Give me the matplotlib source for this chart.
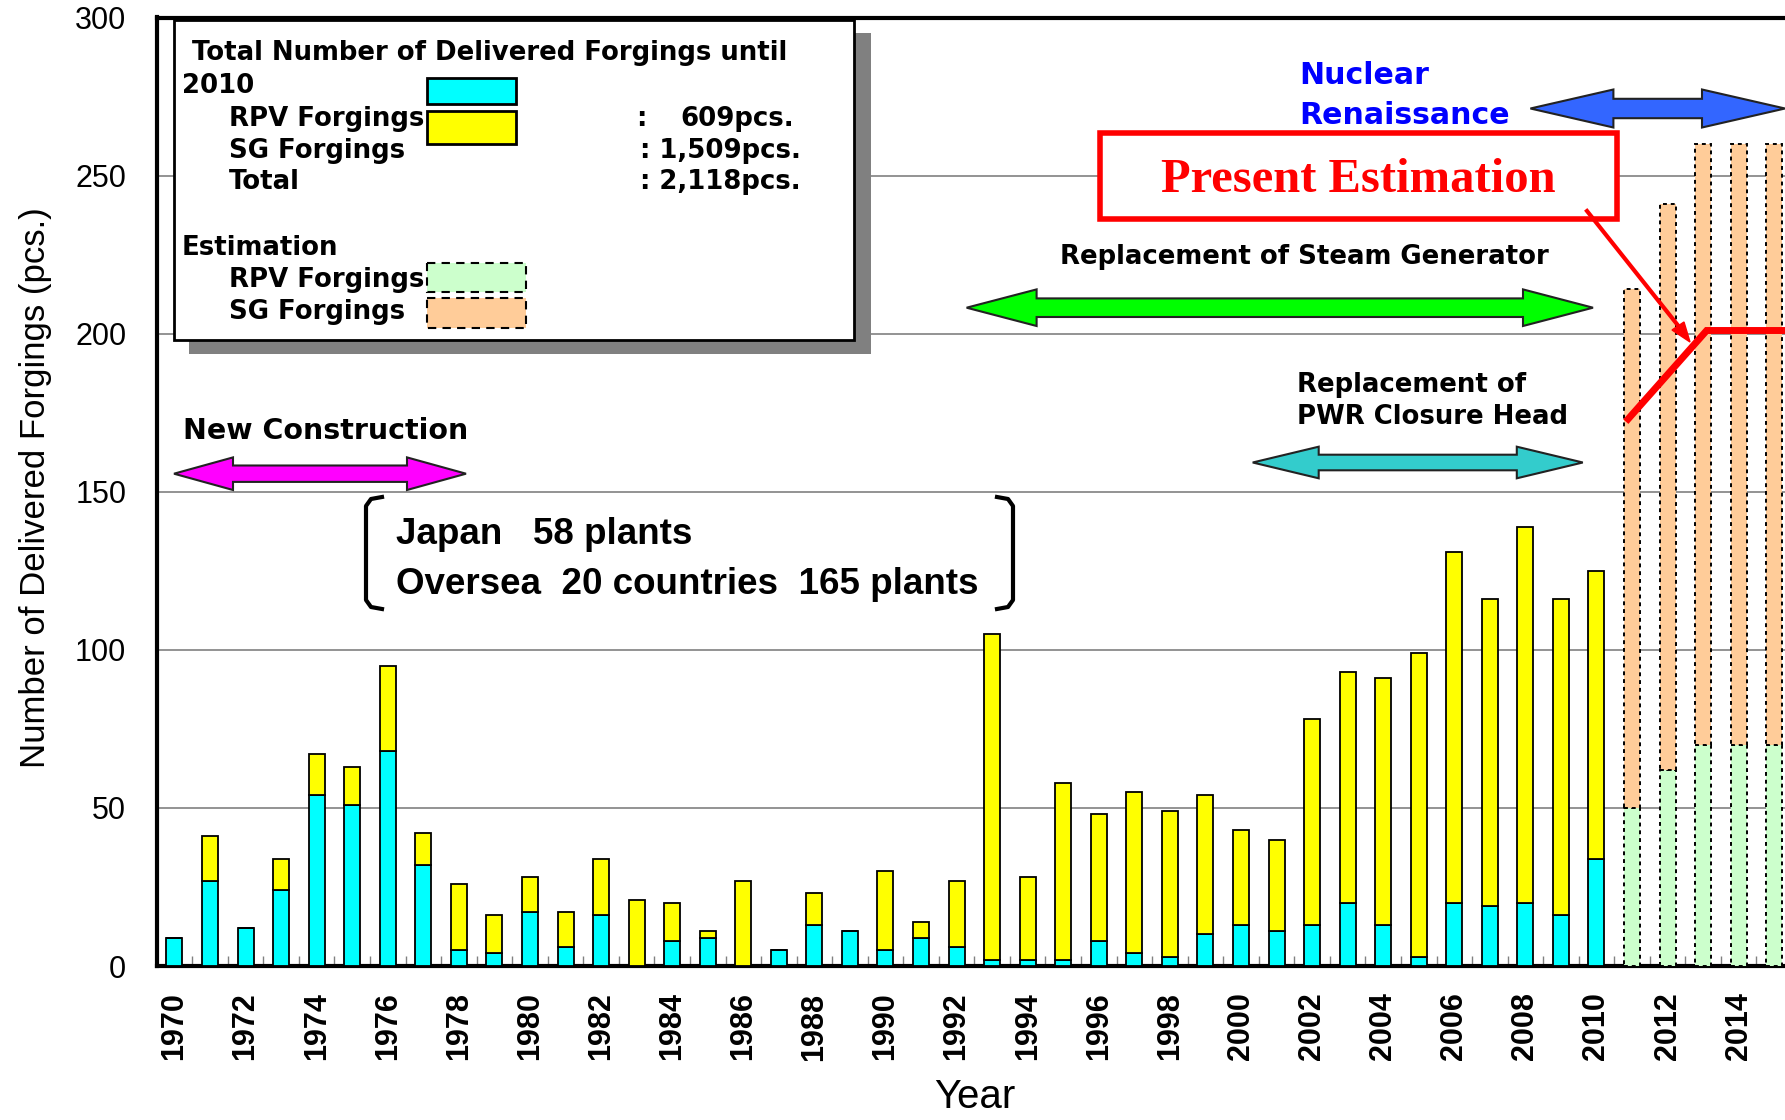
import matplotlib
matplotlib.use('Agg')
import matplotlib.pyplot as plt
import matplotlib.transforms as mtrans
from matplotlib.patches import Rectangle, Polygon
from matplotlib.lines import Line2D

# ---------------- data ----------------
years = list(range(1970, 2011))
rpv = [9, 27, 12, 24, 54, 51, 68, 32, 5, 4, 17, 6, 16, 0, 8, 9, 0, 5, 13, 11, 5,
       9, 6, 2, 2, 2, 8, 4, 3, 10, 13, 11, 13, 20, 13, 3, 20, 19, 20, 16, 34]
sg = [0, 14, 0, 10, 13, 12, 27, 10, 21, 12, 11, 11, 18, 21, 12, 2, 27, 0, 10, 0, 25,
      5, 21, 103, 26, 56, 40, 51, 46, 44, 30, 29, 65, 73, 78, 96, 111, 97, 119, 100, 91]
est_years = [2011, 2012, 2013, 2014, 2015]
est_rpv = [50, 62, 70, 70, 70]
est_sg = [164, 179, 190, 190, 190]
tick_years = list(range(1970, 2015, 2))
y_ticks = [0, 50, 100, 150, 200, 250, 300]

# ---------------- figure ----------------
W, H = 1785, 1120
fig = plt.figure(figsize=(W / 100, H / 100), dpi=100)
fig.patch.set_facecolor('white')
ax_left, ax_right = 156.7 / W, 1792 / W
ax_bottom, ax_top = 1 - 966 / H, 1 - 17.5 / H
ax = fig.add_axes([ax_left, ax_bottom, ax_right - ax_left, ax_top - ax_bottom])

T = mtrans.Affine2D().scale(1 / W, -1 / H).translate(0, 1) + fig.transFigure

GOTHIC = 'DejaVu Sans'
ARIAL = 'Liberation Sans'

bw = 0.45
ax.bar(years, rpv, width=bw, color='#00FFFF', edgecolor='black', linewidth=1.3, zorder=3)
ax.bar(years, sg, width=bw, bottom=rpv, color='#FFFF00', edgecolor='black', linewidth=1.3, zorder=3)
ax.bar(est_years, est_rpv, width=bw, color='#CCFFCC', edgecolor='black', linewidth=1.4,
       linestyle=(0, (2, 2)), zorder=3)
ax.bar(est_years, est_sg, width=bw, bottom=est_rpv, color='#FFCC99', edgecolor='black',
       linewidth=1.4, linestyle=(0, (2, 2)), zorder=3)

ax.set_xlim(1969.5, 2015.5)
ax.set_ylim(0, 300)
ax.set_yticks(y_ticks)
ax.set_yticklabels([str(v) for v in y_ticks], fontsize=22, family=ARIAL)
ax.set_xticks(tick_years)
ax.set_xticklabels([str(y) for y in tick_years], rotation=90, fontsize=22,
                   fontweight='bold', family=ARIAL)
ax.set_xticks([y + 0.5 for y in range(1969, 2016)], minor=True)
ax.tick_params(axis='x', which='major', length=0, pad=19)
ax.tick_params(axis='x', which='minor', direction='in', length=7, color='#808080', width=1)
ax.tick_params(axis='y', which='major', length=0, pad=22)
ax.yaxis.grid(True, color='#808080', linewidth=1.2, zorder=0)
ax.set_axisbelow(True)
for s in ['top', 'left', 'bottom']:
    ax.spines[s].set_linewidth(3)
    ax.spines[s].set_color('black')
ax.spines['right'].set_visible(False)

fig.text(36 / W, 1 - 488 / H, 'Number of Delivered Forgings (pcs.)', rotation=90,
         ha='center', va='center', fontsize=25, family=ARIAL)
fig.text(975 / W, 1 - 1097 / H, 'Year', ha='center', va='center', fontsize=29, family=ARIAL)

# ---------------- legend box ----------------
fig.add_artist(Rectangle((189, 33), 682, 321, transform=T, facecolor='#808080',
                         edgecolor='none', zorder=5))
fig.add_artist(Rectangle((174, 20), 680, 320, transform=T, facecolor='white',
                         edgecolor='black', linewidth=2, zorder=6))
lt = dict(transform=T, fontsize=18.7, fontweight='bold', family=GOTHIC, va='center', zorder=7)
fig.text(192, 53, 'Total Number of Delivered Forgings until', ha='left', **lt)
fig.text(182, 86, '2010', ha='left', **lt)
fig.text(229, 119, 'RPV Forgings', ha='left', **lt)
fig.text(229, 151, 'SG Forgings', ha='left', **lt)
fig.text(229, 182, 'Total', ha='left', **lt)
fig.text(636, 119, ':', ha='left', **lt)
fig.text(794, 119, '609pcs.', ha='right', **lt)
fig.text(640, 151, ': 1,509pcs.', ha='left', **lt)
fig.text(640, 182, ': 2,118pcs.', ha='left', **lt)
fig.text(182, 248, 'Estimation', ha='left', **lt)
fig.text(229, 280, 'RPV Forgings', ha='left', **lt)
fig.text(229, 312, 'SG Forgings', ha='left', **lt)
fig.add_artist(Rectangle((427, 78), 89, 26, transform=T, facecolor='#00FFFF',
                         edgecolor='black', linewidth=2, zorder=7))
fig.add_artist(Rectangle((427, 111), 89, 33, transform=T, facecolor='#FFFF00',
                         edgecolor='black', linewidth=2, zorder=7))
fig.add_artist(Rectangle((427, 263), 99, 29, transform=T, facecolor='#CCFFCC',
                         edgecolor='black', linewidth=1.5, linestyle=(0, (4, 3)), zorder=7))
fig.add_artist(Rectangle((427, 298), 99, 30, transform=T, facecolor='#FFCC99',
                         edgecolor='black', linewidth=1.5, linestyle=(0, (4, 3)), zorder=7))


# ---------------- double arrows ----------------
def double_arrow(x0, x1, yc, hl, hh, bh, color, z=6):
    pts = [(x0, yc), (x0 + hl, yc - hh), (x0 + hl, yc - bh), (x1 - hl, yc - bh),
           (x1 - hl, yc - hh), (x1, yc), (x1 - hl, yc + hh), (x1 - hl, yc + bh),
           (x0 + hl, yc + bh), (x0 + hl, yc + hh)]
    fig.add_artist(Polygon(pts, closed=True, transform=T, facecolor=color,
                           edgecolor='#222222', linewidth=1.5, zorder=z))


double_arrow(174, 466, 473.7, 59, 16.3, 8.2, '#FF00FF')
double_arrow(966.6, 1593, 307.7, 70, 18.3, 9.3, '#00FF00')
double_arrow(1252.7, 1582.8, 462.5, 66, 15.8, 7.8, '#33CCCC')
double_arrow(1530.4, 1785, 108.5, 83, 19, 9.7, '#3366FF')

at = dict(transform=T, fontweight='bold', family=GOTHIC, va='center', zorder=7)
fig.text(183, 431, 'New Construction', ha='left', fontsize=20.5, **at)
fig.text(1060, 257, 'Replacement of Steam Generator', ha='left', fontsize=18.7, **at)
fig.text(1297, 385, 'Replacement of', ha='left', fontsize=18.7, **at)
fig.text(1297, 417, 'PWR Closure Head', ha='left', fontsize=18.7, **at)
bt = dict(transform=T, fontsize=21.6, fontweight='bold', family=GOTHIC, va='center',
          color='#0000FF', zorder=7)
fig.text(1299, 75, 'Nuclear', ha='left', **bt)
fig.text(1299, 115, 'Renaissance', ha='left', **bt)

# bracket text
ct = dict(transform=T, fontsize=26.5, fontweight='bold', family=ARIAL, va='center', zorder=7)
fig.text(396, 535, 'Japan   58 plants', ha='left', **ct)
fig.text(396, 585, 'Oversea  20 countries  165 plants', ha='left', **ct)
fig.add_artist(Line2D([382, 371, 366, 366, 371, 382], [497, 499, 506, 600, 607, 609],
                      transform=T, color='black', linewidth=3, zorder=7))
fig.add_artist(Line2D([997, 1008, 1013, 1013, 1008, 997], [497, 499, 506, 600, 607, 609],
                      transform=T, color='black', linewidth=3, zorder=7))

# Present Estimation box
fig.add_artist(Rectangle((1100, 133), 517, 86, transform=T, facecolor='white',
                         edgecolor='#FF0000', linewidth=4, zorder=8))
fig.text(1358, 180, 'Present Estimation', transform=T, ha='center', va='center',
         fontsize=35, fontweight='bold', family='Liberation Serif', color='#FF0000', zorder=9)
fig.add_artist(Line2D([1587, 1684], [211, 333], transform=T, color='#FF0000',
                      linewidth=3, zorder=9))
fig.add_artist(Polygon([(1690, 342), (1672, 330), (1684, 322)], closed=True, transform=T,
                       facecolor='#FF0000', edgecolor='#FF0000', zorder=9))
ax.plot([2010.89, 2013.1, 2016], [173, 201, 201], color='#FF0000', linewidth=5,
        solid_joinstyle='miter', zorder=6, clip_on=False)

fig.savefig('out.png', dpi=100)
